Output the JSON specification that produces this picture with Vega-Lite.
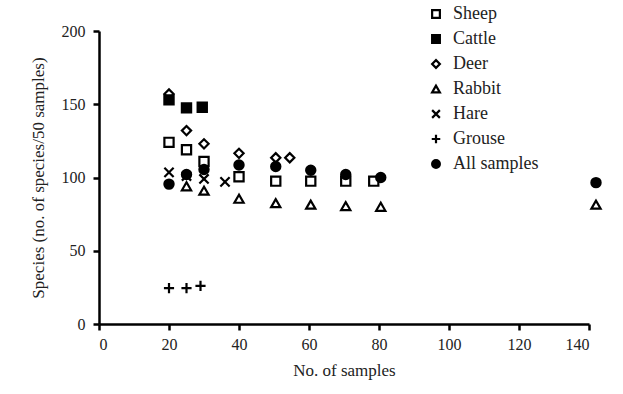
{
  "$schema": "https://vega.github.io/schema/vega-lite/v6.json",
  "width": 490,
  "height": 293,
  "autosize": {"type": "none"},
  "padding": {"left": 99, "top": 31, "right": 34, "bottom": 70},
  "background": "white",
  "config": {
    "view": {"stroke": null},
    "font": "Liberation Serif",
    "axis": {
      "domainColor": "black", "domainWidth": 2.5, "tickColor": "black", "tickWidth": 2.5, "tickSize": 6,
      "grid": false, "labelFont": "Liberation Serif", "labelFontSize": 16, "labelColor": "#222",
      "titleFont": "Liberation Serif", "titleFontSize": 17, "titleFontWeight": "normal", "titleColor": "#222"
    },
    "legend": {"labelFont": "Liberation Serif"}
  },
  "data": {
    "values": [
      {"group": "Sheep", "n": 20, "s": 124},
      {"group": "Sheep", "n": 25, "s": 119},
      {"group": "Sheep", "n": 30, "s": 111},
      {"group": "Sheep", "n": 40, "s": 100.5},
      {"group": "Sheep", "n": 50.5, "s": 97.5},
      {"group": "Sheep", "n": 60.5, "s": 97.5},
      {"group": "Sheep", "n": 70.5, "s": 97.5},
      {"group": "Sheep", "n": 78.5, "s": 97.5},
      {"group": "Cattle", "n": 20, "s": 153},
      {"group": "Cattle", "n": 25, "s": 147.5},
      {"group": "Cattle", "n": 29.5, "s": 148},
      {"group": "Deer", "n": 20, "s": 157},
      {"group": "Deer", "n": 25, "s": 132},
      {"group": "Deer", "n": 30, "s": 123},
      {"group": "Deer", "n": 40, "s": 116.5},
      {"group": "Deer", "n": 50.5, "s": 113.5},
      {"group": "Deer", "n": 54.5, "s": 113.5},
      {"group": "Rabbit", "n": 25, "s": 94},
      {"group": "Rabbit", "n": 30, "s": 91},
      {"group": "Rabbit", "n": 40, "s": 85.5},
      {"group": "Rabbit", "n": 50.5, "s": 82.5},
      {"group": "Rabbit", "n": 60.5, "s": 81.5},
      {"group": "Rabbit", "n": 70.5, "s": 80.5},
      {"group": "Rabbit", "n": 80.5, "s": 80},
      {"group": "Rabbit", "n": 142, "s": 81.5},
      {"group": "Hare", "n": 20, "s": 103.5},
      {"group": "Hare", "n": 25, "s": 101},
      {"group": "Hare", "n": 30, "s": 99},
      {"group": "Hare", "n": 36, "s": 97},
      {"group": "Grouse", "n": 20, "s": 24.5},
      {"group": "Grouse", "n": 25, "s": 24.5},
      {"group": "Grouse", "n": 29, "s": 26},
      {"group": "All samples", "n": 20, "s": 95.5},
      {"group": "All samples", "n": 25, "s": 102},
      {"group": "All samples", "n": 30, "s": 105.5},
      {"group": "All samples", "n": 40, "s": 108.5},
      {"group": "All samples", "n": 50.5, "s": 107.5},
      {"group": "All samples", "n": 60.5, "s": 105},
      {"group": "All samples", "n": 70.5, "s": 102},
      {"group": "All samples", "n": 80.5, "s": 100},
      {"group": "All samples", "n": 142, "s": 96.5}
    ]
  },
  "mark": {"type": "point", "size": 85, "strokeWidth": 2.2, "opacity": 1, "stroke": "black"},
  "encoding": {
    "x": {
      "field": "n", "type": "quantitative", "title": "No. of samples",
      "scale": {"domain": [0, 140], "nice": false, "zero": true},
      "axis": {"values": [0, 20, 40, 60, 80, 100, 120, 140], "labelPadding": 6, "titlePadding": 10}
    },
    "y": {
      "field": "s", "type": "quantitative", "title": "Species (no. of species/50 samples)",
      "scale": {"domain": [0, 200], "nice": false},
      "axis": {"values": [0, 50, 100, 150, 200], "labelPadding": 8, "titlePadding": 14}
    },
    "shape": {
      "field": "group", "type": "nominal", "title": null,
      "scale": {
        "domain": ["Sheep", "Cattle", "Deer", "Rabbit", "Hare", "Grouse", "All samples"],
        "range": ["square", "square", "diamond", "triangle-up", "M-1,-1L1,1M-1,1L1,-1", "M-1.1,0L1.1,0M0,-1.1L0,1.1", "circle"]
      }
    },
    "fill": {
      "field": "group", "type": "nominal", "title": null,
      "scale": {
        "domain": ["Sheep", "Cattle", "Deer", "Rabbit", "Hare", "Grouse", "All samples"],
        "range": ["transparent", "black", "transparent", "transparent", "transparent", "transparent", "black"]
      },
      "legend": {
        "orient": "none", "legendX": 328, "legendY": -26, "rowPadding": 7,
        "labelFont": "Liberation Serif", "labelFontSize": 18, "labelColor": "#222", "symbolSize": 60,
        "symbolStrokeColor": "black", "symbolStrokeWidth": 2.2, "labelOffset": 8
      }
    }
  }
}
